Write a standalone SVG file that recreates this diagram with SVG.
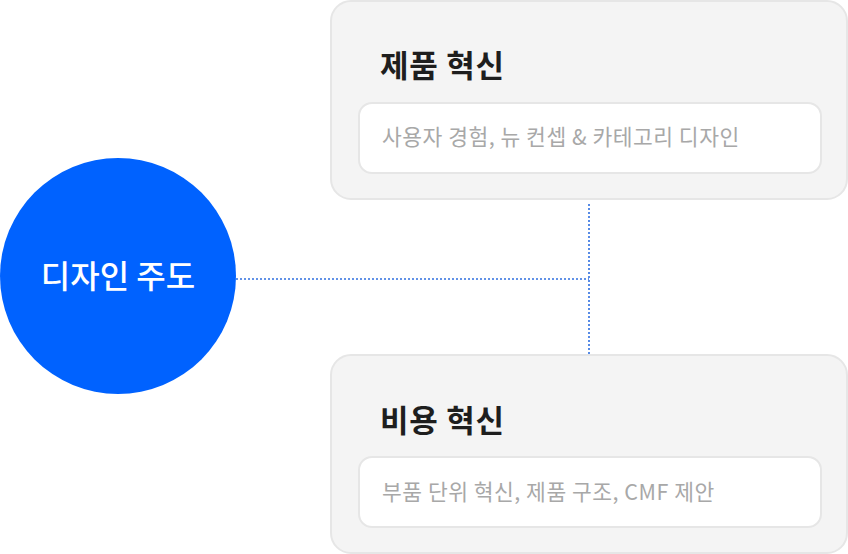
<svg xmlns="http://www.w3.org/2000/svg" width="848" height="554" viewBox="0 0 848 554">
<style>
.card{fill:#f4f4f4;stroke:#e6e6e6;stroke-width:2}
.inner{fill:#ffffff;stroke:#e6e6e6;stroke-width:2}
.title{font-family:"Noto Sans CJK KR","Noto Sans",sans-serif;font-weight:700;font-size:31px;fill:#1e1e1e;letter-spacing:0.7px}
.sub{font-family:"Noto Sans CJK KR","Noto Sans",sans-serif;font-size:21.5px;fill:#a8a8a8;letter-spacing:0.5px}
.hub{font-family:"Noto Sans CJK KR","Noto Sans",sans-serif;font-size:32px;fill:#ffffff;font-weight:500}
.conn{fill:none;stroke:#2f6fe0;stroke-width:1.6;stroke-dasharray:2 2}
</style>
<g id="connectors">
<path class="conn" d="M236 279 H589"/>
<path class="conn" d="M589 204 V354"/>
</g>
<g id="hub">
<circle cx="118" cy="276" r="118" fill="#0062ff"/>
<text class="hub" x="118" y="288" text-anchor="middle">디자인 주도</text>
</g>
<g id="product">
<rect class="card" x="331" y="1" width="516" height="198" rx="20"/>
<text class="title" x="380" y="77">제품 혁신</text>
<rect class="inner" x="359" y="103" width="462" height="70" rx="13"/>
<text class="sub" x="382" y="145">사용자 경험, 뉴 컨셉 &amp; 카테고리 디자인</text>
</g>
<g id="cost">
<rect class="card" x="331" y="355" width="516" height="198" rx="20"/>
<text class="title" x="380" y="432">비용 혁신</text>
<rect class="inner" x="359" y="457" width="462" height="70" rx="13"/>
<text class="sub" x="382" y="500" letter-spacing="1.5">부품 단위 혁신, 제품 구조, CMF 제안</text>
</g>
</svg>
